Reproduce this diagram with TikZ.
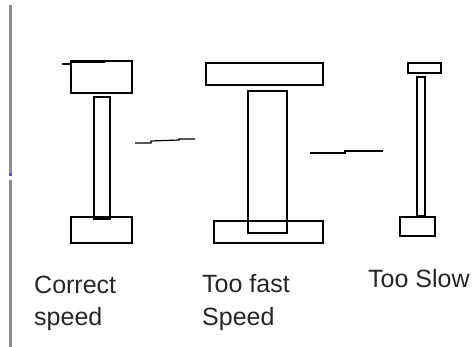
\documentclass[tikz,border=0pt]{standalone}
\usepackage{fontspec}
\setmainfont{Liberation Sans}
\begin{document}
\begin{tikzpicture}[x=1pt,y=-1pt,
  part/.style={draw=black,line width=1.5pt},
  stroke/.style={draw=black,line width=1.2pt},
  lbl/.style={anchor=base west,inner sep=0pt,font=\fontsize{25}{32}\selectfont,text=black!85}]
\useasboundingbox (0,0) rectangle (472,347);
% left gray bar
\draw[gray!90,line width=3.5pt] (10.5,5) -- (10.5,173);
\draw[blue!70,line width=3.5pt] (10.5,173) -- (10.5,176);
\draw[gray!90,line width=3.5pt] (10.5,180) -- (10.5,347);
% Correct speed
\draw[part] (71,61) rectangle (132,93);
\draw[part] (94,97) rectangle (110,219);
\draw[part] (71,217) rectangle (132,243);
\draw[stroke] (62,64) -- (72,64);
\draw[black,line width=2.5pt] (72,62) -- (105,62);
\draw[black,line width=2.5pt] (94,218) -- (110,218);
% Too fast
\draw[part] (206,63) rectangle (323,85);
\draw[part] (248,91) rectangle (287,233);
\draw[part] (214,221) rectangle (323,243);
% Too slow
\draw[part] (408,63) rectangle (441,73);
\draw[part] (417,77) rectangle (425,216);
\draw[part] (400,217) rectangle (435,236);
\draw[black,line width=2.5pt] (417,216) -- (425,216);
% dashes between
\draw[stroke] (135,143) -- (151,143) -- (151,141) -- (179,140) -- (179,139) -- (195,139);
\draw[stroke] (310,153) -- (345,153) -- (345,151) -- (383,151);
% labels
\node[lbl] (c1) at (34,294) {Correct};
\node[lbl] (c2) at (34,326) {speed};
\node[lbl] (f1) at (202,293) {Too fast};
\node[lbl] (f2) at (202,326) {Speed};
\node[lbl] (s1) at (368,288) {Too Slow};
\end{tikzpicture}
\end{document}
